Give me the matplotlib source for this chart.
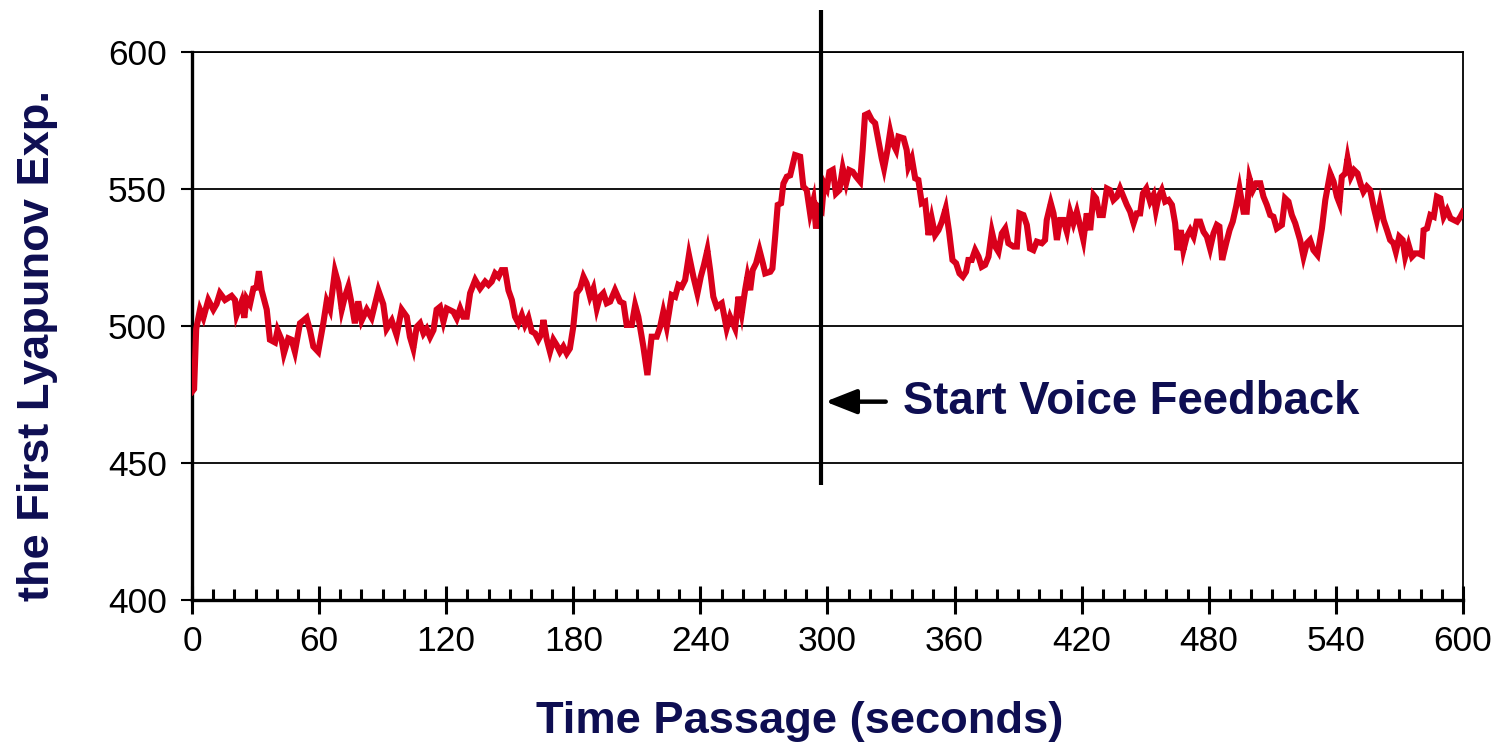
import matplotlib
matplotlib.use("Agg")
import matplotlib.pyplot as plt
from matplotlib.ticker import MultipleLocator

plt.rcParams['font.family'] = ['Liberation Sans', 'DejaVu Sans']

# ---- data (seconds, first Lyapunov exponent) ----
time_s = [
    0, 1.0, 2.0, 3.8, 5.4, 7.7, 10.1, 11.6, 13.2, 15.6, 18.7, 20.3, 21.1, 23.5, 24.7, 25.8, 27.4, 29.0, 30.5,
    31.6, 32.9, 35.3, 36.8, 39.2, 40.4, 42.3, 43.4, 45.5, 47.0, 48.6, 51.0, 52.6, 54.1, 55.7, 57.3, 59.6,
    62.0, 63.6, 65.2, 67.5, 69.1, 70.7, 72.2, 73.8, 75.4, 76.9, 78.5, 80.1, 82.5, 84.8, 88.0, 90.3, 91.9,
    94.3, 96.6, 99.0,
    101.4, 102.9, 104.5, 106.1, 107.7, 109.3, 110.8, 112.4, 114.0, 115.5, 117.1, 118.7, 120.3, 121.8, 123.4,
    125.0, 126.6, 128.1, 129.7, 131.3, 133.7, 136.0, 138.4, 140.0, 141.5, 143.1, 144.7, 146.2, 147.8, 149.4,
    151.0, 152.5, 154.1, 155.7, 157.2, 158.8, 160.4, 162.0, 163.5, 165.1, 165.9, 167.5, 169.0, 170.6, 172.2,
    173.7, 175.3, 176.9, 178.4, 180.0, 181.6, 183.2, 184.8, 186.3, 187.9, 189.5, 191.1, 192.6, 194.2, 195.8,
    197.4, 199.7,
    202.1, 203.7, 205.2, 207.6, 209.2, 210.7, 213.1, 215.0, 217.0, 219.4, 221.0, 222.5, 224.1, 226.5, 228.1,
    229.6, 231.2, 232.8, 234.6, 236.7, 238.6, 240.2, 241.7, 243.3, 244.6, 246.1, 247.7, 250.1, 252.4, 254.0,
    256.4, 258.0, 259.5, 261.1, 262.2, 263.5, 264.7, 266.3, 267.9, 269.5, 270.6, 273.0, 274.0, 275.3, 276.5,
    278.1, 279.2, 280.8, 282.4, 284.7,
    287.1, 288.6, 290.2, 291.8, 293.4, 294.6, 295.7, 297.3, 298.4, 299.7, 300.9, 302.5, 304.0, 305.6, 307.2,
    308.8, 310.3, 311.9, 313.5, 315.4, 316.6, 317.7, 319.3, 320.9, 322.5, 324.0, 325.6, 326.7, 328.3, 329.6,
    330.8, 332.4, 333.5, 335.9, 337.4, 338.2, 339.8, 341.4, 342.9, 344.5, 346.1, 347.7, 349.2, 350.8, 352.4,
    354.0, 355.8, 357.4, 359.0, 360.7, 362.3, 363.9, 365.4, 366.5, 368.1, 369.7, 371.3, 372.8, 374.4, 376.0,
    377.6, 379.2, 380.7, 382.3, 383.9, 385.4, 387.8, 389.4, 390.6,
    392.5, 394.1, 395.6, 397.2, 398.8, 401.2, 402.7, 403.5, 405.4, 406.7, 408.3, 409.8, 411.4, 413.0, 414.5,
    416.1, 417.7, 419.3, 420.8, 422.4, 424.0, 425.6, 426.8, 428.4, 430.0, 431.9, 433.4, 435.0, 436.6, 438.1,
    439.7, 441.3, 442.9, 444.5, 446.0, 447.6, 448.9, 450.5, 452.3, 453.9, 455.0, 456.3, 457.8, 459.4, 461.0,
    462.6, 464.1, 465.2, 466.8, 468.0, 469.6, 471.2, 472.8, 474.3, 475.9, 477.5, 479.1, 480.6, 482.2, 483.8,
    485.0, 486.3, 488.2, 489.8, 491.3, 492.9, 494.5,
    496.4, 497.9, 499.2, 500.8, 502.4, 504.3, 505.8, 507.4, 509.0, 510.5, 512.1, 514.5, 516.0, 517.6, 519.2,
    520.8, 523.1, 524.7, 526.3, 527.8, 529.4, 531.3, 533.4, 535.0, 537.3, 538.9, 540.5, 541.7, 542.8, 544.4,
    545.5, 547.1, 548.6, 550.2, 551.8, 553.0, 554.6, 556.2, 557.8, 559.3, 560.9, 562.5, 564.1, 565.6, 567.2,
    568.3, 569.9, 571.5, 572.7, 574.3, 575.9, 577.4, 579.0, 580.6, 581.4, 583.0, 584.6, 586.2, 587.7, 589.3,
    590.9, 592.5, 594.1, 595.6, 597.2, 598.8, 600.0,
]
lyap = [
    476, 477, 499, 506, 503, 509.5, 506, 508, 512, 509.5, 511, 509.5, 504, 509, 503, 510, 508, 513.7, 514,
    520, 513, 506, 495, 494, 498.5, 495, 490, 495.5, 495, 490.6, 501, 502, 503, 498.5, 492.5, 490.6,
    501, 509, 506, 520, 515.6, 506, 510.7, 514.4, 508, 501, 509, 502, 506, 503, 513, 508, 499,
    502, 496.7, 506,
    503.4, 496, 491.8, 499.7, 501, 497.3, 499, 496, 498.5, 506, 507, 501.6, 506.4, 505.8, 505.2,
    502.8, 506.4, 503.4, 503.4, 512, 516.8, 513.7, 516.2, 515, 516.2, 519.2, 518, 520.4, 520.4, 513,
    509.5, 503.4, 501, 504, 500.4, 503, 498, 497.3, 495, 497.3, 502.2, 495, 490.6, 495, 493,
    490.6, 492.5, 490, 491.8, 499.7, 512, 513.7, 518, 515.6, 510.7, 513.7, 506.4, 510.7, 512, 508.3,
    508.9, 513.1,
    508.9, 508.3, 500.4, 500.4, 507.6, 503.4, 492.4, 482.1, 496.1, 496.1, 499.7, 505.2, 499.7, 511.3, 510.7,
    515, 514.3, 516.8, 525.9, 518, 511.9, 518, 522.3, 527.7, 520.4, 510.7, 507, 508.3, 499.1, 503.4,
    499.1, 510.7, 504.6, 513.1, 518, 513.1, 520.4, 522.9, 527.7, 522.9, 519.2, 519.8, 521, 532.6, 544.2,
    544.8, 552, 554.5, 555, 562.4,
    561.8, 550.9, 549.6, 541.1, 546, 535.6, 543.5, 542.3, 552.1, 550.2, 556.3, 557, 548.4, 549.6, 557.5,
    552.1, 556.9, 556.3, 554.5, 552.7, 564.2, 577, 577.6, 575.2, 574, 567.9, 561.2, 557.5, 564.2, 570.9,
    566.7, 564.2, 569.1, 568.5, 564.2, 558.2, 561.2, 553.9, 553.3, 544.8, 545.4, 533.2, 539.3, 533.2, 535,
    538.1, 542.9, 534.4, 524.1, 522.9, 519.2, 518, 519.8, 524.1, 524.1, 527.7, 525.3, 521.6, 522.3, 525.3,
    534.4, 529, 527.1, 533.8, 535.6, 530.2, 529, 529, 541.1,
    540.5, 536.9, 528.3, 527.7, 530.8, 530.2, 531.4, 538.7, 544.8, 541.1, 531.4, 538.7, 538.7, 534.4, 541.7,
    537.5, 541.7, 536.3, 531.4, 541.1, 535, 547.8, 546.6, 540.5, 540.5, 550.2, 549.6, 546, 547.2, 550.2,
    547.2, 544.2, 541.7, 537.5, 541.1, 541.1, 548.4, 550.2, 545.4, 547.8, 542.3, 547.2, 549.6, 545.4, 546,
    544.2, 537.5, 527.7, 535, 527.7, 532.6, 535, 532.6, 538.1, 538.1, 534.4, 532.6, 528.3, 533.8, 536.9,
    536.3, 524.1, 530.2, 535, 538.1, 543.6, 550.2,
    541.7, 541.7, 553.9, 549.6, 552.1, 552.1, 547.2, 544.2, 540.5, 539.9, 535.6, 536.9, 546.6, 545.4, 540.5,
    537.5, 531.4, 525.3, 530.2, 531.4, 527.7, 525.9, 535.6, 546, 555.7, 552.7, 547.2, 544.8, 554.5, 555.7,
    561.2, 554.5, 556.9, 555.7, 551.5, 549, 550.9, 549.6, 543.5, 538.7, 544.8, 538.7, 535, 531.4, 530.2,
    527.1, 532.6, 531.4, 525.3, 529.6, 525.3, 526.5, 526.5, 525.9, 535, 535.6, 540.5, 539.9, 547.2, 546.6,
    539.9, 542.3, 539.3, 538.7, 538.1, 539.9, 541.7,
]
x_ticks = [0, 60, 120, 180, 240, 300, 360, 420, 480, 540, 600]
y_ticks = [400, 450, 500, 550, 600]
feedback_start = 296.8
annotation_text = "Start Voice Feedback"
x_label = "Time Passage (seconds)"
y_label = "the First Lyapunov Exp."

NAVY = "#0e0e52"
RED = "#d9001b"

fig = plt.figure(figsize=(14.95, 7.44), dpi=100)
ax = fig.add_axes([0.1284, 0.1935, 0.8502, 0.7366])

ax.set_xlim(0, 600)
ax.set_ylim(400, 600)

for yv in y_ticks[1:]:
    ax.axhline(yv, color="black", lw=1.3, zorder=1)

ax.plot(time_s, lyap, color=RED, lw=4.4, solid_joinstyle="miter", zorder=3)

# feedback start marker (extends beyond axes)
ax.plot([feedback_start, feedback_start], [442, 615.5], color="black", lw=3.0,
        clip_on=False, zorder=4, solid_capstyle="butt")

ax.annotate("", xy=(299.0, 472.4), xytext=(327.5, 472.4),
            arrowprops=dict(arrowstyle="-|>,head_length=1.9,head_width=0.75",
                            color="black", lw=3.2, shrinkA=0, shrinkB=0))
ax.text(335.5, 472.4, annotation_text, fontsize=32.8, fontweight="bold",
        color=NAVY, va="center", ha="left")

ax.spines["left"].set_linewidth(2.4)
ax.spines["bottom"].set_linewidth(2.4)
ax.spines["right"].set_linewidth(1.3)
ax.spines["top"].set_linewidth(1.3)

ax.set_xticks(x_ticks)
ax.set_yticks(y_ticks)
ax.xaxis.set_minor_locator(MultipleLocator(10))
ax.tick_params(axis="x", which="major", direction="inout", length=20, width=2.2,
               labelsize=25.5, pad=8, top=False)
ax.tick_params(axis="x", which="minor", direction="in", length=8, width=2.2, top=False)
ax.tick_params(axis="y", which="major", direction="out", length=8, width=1.5,
               labelsize=25.5, pad=10, right=False)

ax.set_xlabel(x_label, fontsize=32.6, fontweight="bold", color=NAVY)
ax.set_ylabel(y_label, fontsize=32.6, fontweight="bold", color=NAVY)
ax.xaxis.set_label_coords(0.478, -0.184)
ax.yaxis.set_label_coords(-0.105, 0.465)

fig.savefig("out.png", dpi=100)
